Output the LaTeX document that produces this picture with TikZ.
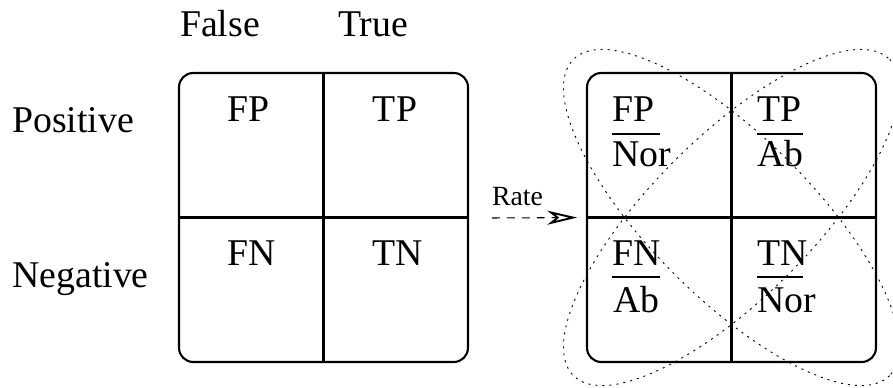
\documentclass[tikz,border=0pt]{standalone}
\usepackage{fontspec}
\setmainfont{Liberation Serif}
\usetikzlibrary{arrows.meta}
\begin{document}
\begin{tikzpicture}[x=0.02cm,y=-0.02cm,
  lbl/.style={inner sep=0pt,font=\fontsize{21.5}{26}\selectfont},
  grid box/.style={draw,line width=1.2pt,rounded corners=8pt,minimum width=5.78cm,minimum height=5.78cm,inner sep=0pt},
  divider/.style={line width=1.2pt},
  fbar/.style={line width=1.3pt},
  loop/.style={line width=0.5pt,dash pattern=on 1.2pt off 2.8pt},
  rate/.style={line width=0.6pt,dash pattern=on 4.5pt off 4pt,-{Stealth[open,length=17pt,width=8pt,inset=5pt,line width=1.1pt]},shorten >=5pt}]
\useasboundingbox (0,0) rectangle (893,388);
% left matrix
\node[grid box] (L) at (323.5,217.5) {};
\draw[divider] (L.north) -- (L.south);
\draw[divider] (L.west) -- (L.east);
\node[lbl,anchor=base] (false) at (220,37) {False};
\node[lbl,anchor=base] (true) at (373,37) {True};
\node[lbl,anchor=base west] (pos) at (12,133) {Positive};
\node[lbl,anchor=base west] (neg) at (12,288) {Negative};
\node[lbl,anchor=base] (fp) at (249,122) {FP};
\node[lbl,anchor=base] (tp) at (395,122) {TP};
\node[lbl,anchor=base] (fn) at (252,266) {FN};
\node[lbl,anchor=base] (tn) at (398,266) {TN};
% right matrix
\node[grid box] (R) at (731.5,217.5) {};
\draw[divider] (R.north) -- (R.south);
\draw[divider] (R.west) -- (R.east);
\node[lbl,anchor=base west] (rfp) at (612,122) {FP};
\node[lbl,anchor=base west] (rfpd) at (612,167) {Nor};
\draw[fbar] (612,134) -- (660,134);
\node[lbl,anchor=base west] (rtp) at (757,122) {TP};
\node[lbl,anchor=base west] (rtpd) at (757,167) {Ab};
\draw[fbar] (757,134) -- (803,134);
\node[lbl,anchor=base west] (rfn) at (612,266) {FN};
\node[lbl,anchor=base west] (rfnd) at (613,313) {Ab};
\draw[fbar] (612,277) -- (660,277);
\node[lbl,anchor=base west] (rtn) at (757,266) {TN};
\node[lbl,anchor=base west] (rtnd) at (757,313) {Nor};
\draw[fbar] (757,277) -- (803,277);
% ellipses
\draw[loop,rotate around={45:(R.center)}] (R.center) ellipse [x radius=223.6,y radius=80.4];
\draw[loop,rotate around={-45:(R.center)}] (R.center) ellipse [x radius=223.6,y radius=80.4];
% rate arrow
\coordinate (rs) at (492,218);
\draw[rate] (rs) -- (R.west);
\node[inner sep=0pt,anchor=base,font=\fontsize{15.8}{19}\selectfont] (ratelbl) at (517.5,206) {Rate};
\end{tikzpicture}
\end{document}
